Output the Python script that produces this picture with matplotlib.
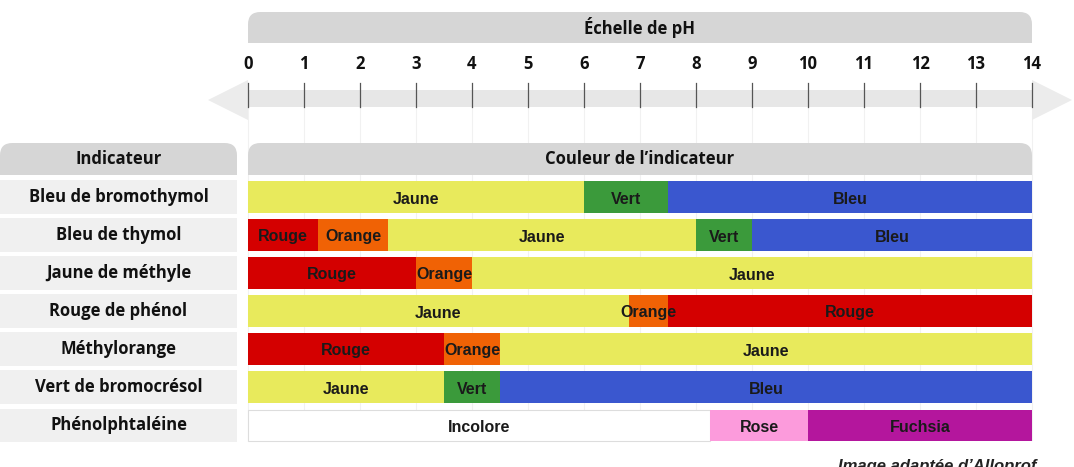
import matplotlib
matplotlib.use("Agg")
import matplotlib.pyplot as plt
from matplotlib.patches import FancyBboxPatch, Rectangle, Polygon

# données
indicateurs = ["Bleu de bromothymol", "Bleu de thymol", "Jaune de méthyle",
               "Rouge de phénol", "Méthylorange", "Vert de bromocrésol",
               "Phénolphtaléine"]
bornes = [
    [0, 6.0, 7.5, 14],
    [0, 1.25, 2.5, 8.0, 9.0, 14],
    [0, 3.0, 4.0, 14],
    [0, 6.8, 7.5, 14],
    [0, 3.5, 4.5, 14],
    [0, 3.5, 4.5, 14],
    [0, 8.25, 10.0, 14],
]
couleurs_txt = [
    ["Jaune", "Vert", "Bleu"],
    ["Rouge", "Orange", "Jaune", "Vert", "Bleu"],
    ["Rouge", "Orange", "Jaune"],
    ["Jaune", "Orange", "Rouge"],
    ["Rouge", "Orange", "Jaune"],
    ["Jaune", "Vert", "Bleu"],
    ["Incolore", "Rose", "Fuchsia"],
]
ph_ticks = list(range(0, 15))

palette = {"Jaune": "#e8ea5c", "Vert": "#3b9a3b", "Bleu": "#3a57cf",
           "Rouge": "#d40000", "Orange": "#f06205", "Incolore": "#ffffff",
           "Rose": "#fc9bdc", "Fuchsia": "#b4169d"}

titre_font = ["Open Sans", "DejaVu Sans"]
seg_font = ["Liberation Sans", "DejaVu Sans"]

W, H = 1074, 467
fig = plt.figure(figsize=(W / 100, H / 100), dpi=100)
ax = fig.add_axes([0, 0, 1, 1])
px = 56.0  # pixels par unité de pH
ax.set_xlim(-248 / px, (W - 248) / px)
ax.set_ylim(H, 0)
ax.axis("off")

x_left = -248 / px
x_col = (237 - 248) / px

# grille verticale très pâle
for t in ph_ticks:
    ax.plot([t, t], [107, 440], color="#f1f1f1", lw=0.8, zorder=0)

# bandeau "Échelle de pH"
ax.add_patch(FancyBboxPatch((0, 12), 14, 31, boxstyle="round,pad=0,rounding_size=0.22",
                            mutation_aspect=px, fc="#d6d6d6", ec="none"))
ax.add_patch(Rectangle((0, 28), 14, 15, fc="#d6d6d6", ec="none"))
ax.text(7, 28, "Échelle de pH", ha="center", va="center", fontsize=12,
        fontweight="bold", family=titre_font, color="#111111")

# flèche de l'échelle
ax.add_patch(Rectangle((0, 90), 14, 17, fc="#e7e7e7", ec="none"))
ax.add_patch(Polygon([(0, 80), (0, 120), (-40 / px, 100)], closed=True, fc="#ececec", ec="none"))
ax.add_patch(Polygon([(14, 80), (14, 120), (14 + 40 / px, 100)], closed=True, fc="#ececec", ec="none"))
for t in ph_ticks:
    ax.plot([t, t], [83, 107], color="#555555", lw=0.9)
    ax.text(t, 64, str(t), ha="center", va="center", fontsize=12,
            fontweight="bold", family=titre_font, color="#111111")

# en-têtes du tableau
ax.add_patch(FancyBboxPatch((x_left, 143), x_col - x_left, 32,
                            boxstyle="round,pad=0,rounding_size=0.22",
                            mutation_aspect=px, fc="#d6d6d6", ec="none"))
ax.add_patch(Rectangle((x_left, 160), x_col - x_left, 15, fc="#d6d6d6", ec="none"))
ax.text((x_left + x_col) / 2, 159, "Indicateur", ha="center", va="center",
        fontsize=12, fontweight="bold", family=titre_font, color="#111111")
ax.add_patch(FancyBboxPatch((0, 143), 14, 32, boxstyle="round,pad=0,rounding_size=0.22",
                            mutation_aspect=px, fc="#d6d6d6", ec="none"))
ax.add_patch(Rectangle((0, 160), 14, 15, fc="#d6d6d6", ec="none"))
ax.text(7, 159, "Couleur de l’indicateur", ha="center", va="center",
        fontsize=12, fontweight="bold", family=titre_font, color="#111111")

# lignes du tableau
y0, pas = 197, 38
for i, nom in enumerate(indicateurs):
    yc = y0 + i * pas
    h = 32 if i < len(indicateurs) - 1 else 31
    ax.barh(yc, x_col - x_left, left=x_left, height=h + 2, color="#f0f0f0", lw=0)
    ax.text((x_left + x_col) / 2, yc, nom, ha="center", va="center",
            fontsize=12, fontweight="bold", family=titre_font, color="#111111")
    b = bornes[i]
    noms = couleurs_txt[i]
    for j, c in enumerate(noms):
        ec = "#dddddd" if c == "Incolore" else "none"
        ax.barh(yc, b[j + 1] - b[j], left=b[j], height=h, color=palette[c],
                edgecolor=ec, lw=0.8)
        ax.text((b[j] + b[j + 1]) / 2, yc + 2, c, ha="center", va="center",
                fontsize=11.5, fontweight="bold", family=seg_font, color="#1a1a1a")

# source, coupée en bas comme sur l'original
ax.text(838 / px - 248 / px, 459, "Image adaptée d’Alloprof", ha="left", va="top",
        fontsize=12, fontstyle="italic", fontweight="bold", family=seg_font,
        color="#222222")

fig.savefig("out.png", dpi=100)
